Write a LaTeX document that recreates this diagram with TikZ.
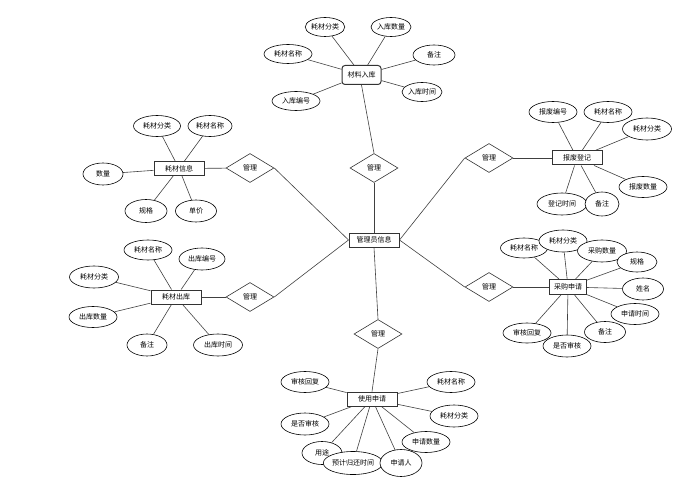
\documentclass[tikz,border=0pt]{standalone}
\usepackage{fontspec}
\newfontfamily\cjk{Noto Sans CJK SC}
\usetikzlibrary{shapes.geometric, backgrounds}
\tikzset{
	ent/.style={draw=black!80, line width=1pt, fill=white, minimum width=50pt,
		minimum height=14pt, inner sep=0pt, font=\cjk\fontsize{7pt}{8pt}\selectfont},
	attr/.style={draw=black, line width=0.6pt, ellipse, fill=white, minimum width=48pt,
		minimum height=21pt, inner sep=0pt, font=\cjk\fontsize{7pt}{8pt}\selectfont},
	rel/.style={draw=black!80, line width=0.6pt, diamond, fill=white, minimum width=48pt,
		minimum height=29pt, inner sep=0pt, font=\cjk\fontsize{7pt}{8pt}\selectfont},
	link/.style={draw=black!75, line width=0.6pt}
}

\begin{document}
\begin{tikzpicture}[x=1pt, y=-1pt]
	\useasboundingbox (0,0) rectangle (695,481);

	% centre
	\node[ent] (mgr) at (374,240) {管理员信息};

	% stock in
	\node[ent, rounded corners=3pt, minimum width=39pt, minimum height=19pt] (stockin) at (361.5,75) {材料入库};
	\node[rel] (rin) at (374,168) {管理};
	\node[attr, minimum width=38pt, minimum height=19pt] (in1) at (325,27) {耗材分类};
	\node[attr, minimum width=40pt, minimum height=19pt] (in2) at (391,27) {入库数量};
	\node[attr, minimum width=48pt, minimum height=19pt] (in3) at (288,54) {耗材名称};
	\node[attr, minimum width=42pt, minimum height=20pt] (in4) at (434,55) {备注};
	\node[attr, minimum width=48pt, minimum height=19pt] (in5) at (296,101) {入库编号};
	\node[attr, minimum width=40pt, minimum height=19pt] (in6) at (422,92) {入库时间};

	% item info
	\node[ent, minimum height=13pt] (item) at (179,168.5) {耗材信息};
	\node[rel] (ritem) at (250,168) {管理};
	\node[attr, minimum width=47pt] (it1) at (157,126) {耗材分类};
	\node[attr, minimum width=44pt] (it2) at (210,126) {耗材名称};
	\node[attr, minimum width=40pt, minimum height=22pt] (it3) at (103,174) {数量};
	\node[attr, minimum width=42pt, minimum height=23pt] (it4) at (146,211) {规格};
	\node[attr, minimum width=41pt, minimum height=22pt] (it5) at (196,211) {单价};

	% stock out
	\node[ent] (stockout) at (176,297) {耗材出库};
	\node[rel] (rout) at (250,297) {管理};
	\node[attr, minimum height=20pt] (out1) at (148,250) {耗材名称};
	\node[attr, minimum width=46pt, minimum height=22pt] (out2) at (202,259) {出库编号};
	\node[attr, minimum width=49pt, minimum height=22pt] (out3) at (94,277) {耗材分类};
	\node[attr] (out4) at (93,317) {出库数量};
	\node[attr, minimum width=40pt, minimum height=22pt] (out5) at (147,345) {备注};
	\node[attr, minimum width=49pt, minimum height=22pt] (out6) at (218,345) {出库时间};

	% scrap
	\node[ent] (scrap) at (577,158) {报废登记};
	\node[rel] (rscrap) at (489,158) {管理};
	\node[attr] (sc1) at (553,112) {报废编号};
	\node[attr] (sc2) at (608,112) {耗材名称};
	\node[attr, minimum width=49pt, minimum height=22pt] (sc3) at (647,129) {耗材分类};
	\node[attr] (sc4) at (643,187) {报废数量};
	\node[attr, minimum width=50pt, minimum height=22pt] (sc5) at (562,204) {登记时间};
	\node[attr, minimum width=34pt, minimum height=24pt] (sc6) at (602,204) {备注};

	% purchase
	\node[ent, minimum width=37pt, minimum height=15pt] (buy) at (568,287) {采购申请};
	\node[rel] (rbuy) at (489,287) {管理};
	\node[attr, minimum width=47pt, minimum height=20pt] (bu1) at (524,248) {耗材名称};
	\node[attr, minimum height=22pt] (bu2) at (563,241) {耗材分类};
	\node[attr, minimum width=49pt, minimum height=22pt] (bu3) at (602,251) {采购数量};
	\node[attr, minimum width=40pt, minimum height=20pt] (bu4) at (637,262) {规格};
	\node[attr, minimum width=41pt, minimum height=22pt] (bu5) at (643,289) {姓名};
	\node[attr] (bu6) at (635,314) {申请时间};
	\node[attr, minimum height=20pt] (bu7) at (527,333) {审核回复};
	\node[attr, minimum width=41pt] (bu8) at (605,332) {备注};
	\node[attr, minimum height=22pt] (bu9) at (567,346) {是否审核};

	% usage
	\node[ent] (use) at (372,399) {使用申请};
	\node[rel] (ruse) at (378,334) {管理};
	\node[attr] (us1) at (305,382) {审核回复};
	\node[attr, minimum height=22pt] (us2) at (305,424) {是否审核};
	\node[attr] (us3) at (451,382) {耗材名称};
	\node[attr, minimum height=22pt] (us4) at (454,416) {耗材分类};
	\node[attr] (us5) at (426,442) {申请数量};
	\node[attr, minimum width=40pt, minimum height=23pt] (us6) at (322,453) {用途};
	\node[attr, minimum width=58pt, minimum height=23pt] (us7) at (353,463) {预计归还时间};
	\node[attr, minimum width=42pt, minimum height=27pt] (us8) at (401,463) {申请人};

	\begin{scope}[on background layer]
		\draw[link] (stockin.south) -- (rin.north);
		\draw[link] (rin) -- (mgr);
		\foreach \a in {in1,in2,in3,in4,in5,in6} \draw[link] (\a) -- (stockin);

		\draw[link] (item) -- (ritem);
		\draw[link] (ritem.east) -- (mgr.west);
		\foreach \a in {it1,it2,it3,it4,it5} \draw[link] (\a) -- (item);

		\draw[link] (stockout) -- (rout);
		\draw[link] (rout.east) -- (mgr.west);
		\foreach \a in {out1,out2,out3,out4,out5,out6} \draw[link] (\a) -- (stockout);

		\draw[link] (rscrap) -- (scrap);
		\draw[link] (rscrap.west) -- (mgr.east);
		\foreach \a in {sc1,sc2,sc3,sc4,sc5,sc6} \draw[link] (\a) -- (scrap);

		\draw[link] (rbuy) -- (buy);
		\draw[link] (rbuy.west) -- (mgr.east);
		\foreach \a in {bu1,bu2,bu3,bu4,bu5,bu6,bu7,bu8,bu9} \draw[link] (\a) -- (buy);

		\draw[link] (mgr.south) -- (ruse.north);
		\draw[link] (ruse.south) -- (use.north);
		\foreach \a in {us1,us2,us3,us4,us5,us6,us7,us8} \draw[link] (\a) -- (use);
	\end{scope}
\end{tikzpicture}
\end{document}
